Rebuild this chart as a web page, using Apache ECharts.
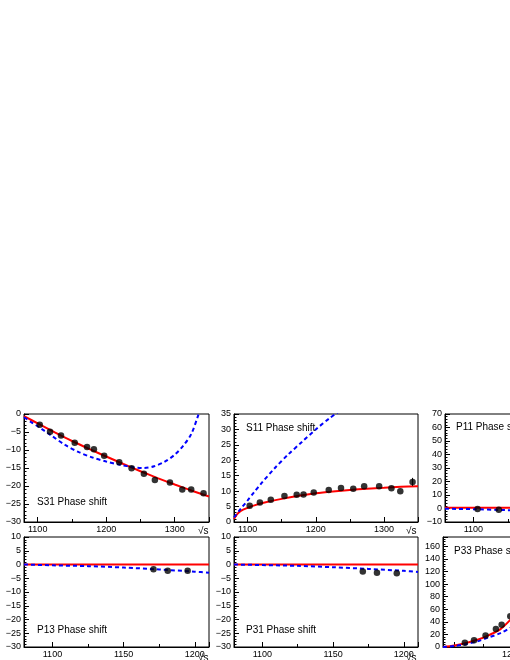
<!DOCTYPE html>
<html>
<head>
<meta charset="utf-8">
<script src="https://cdn.jsdelivr.net/npm/echarts@6/dist/echarts.min.js"></script>
<style>
    html, body {margin:0;padding:0;background:#fff;overflow:hidden;}
    /* the figure is wider than the window; its right part is cut off */
    #chart {width:640px;height:660px;}
</style>
</head>
<body>
<div id="chart"></div>
<script>
    // measured energies (sqrt s, MeV)
    var energies = [1103, 1118, 1134, 1154, 1172, 1182, 1197, 1219, 1237, 1255, 1271, 1293, 1311, 1324, 1342];
    var s31Points = [-3.0, -4.9, -6.0, -8.0, -9.2, -9.8, -11.6, -13.4, -15.1, -16.6, -18.3, -19.0, -21.0, -21.0, -22.0];
    var s11Points = [5.3, 6.3, 7.2, 8.4, 8.8, 8.9, 9.6, 10.4, 11.0, 10.8, 11.6, 11.6, 10.9, 10.0, 13.0];
    var s11Errors = [0, 0, 0, 0, 0, 0, 0, 0, 0, 0, 0, 0, 0, 0, 1.3];

    var s31RedX = [1080, 1100, 1125, 1150, 1175, 1200, 1225, 1250, 1275, 1300, 1325, 1350];
    var s31RedY = [-0.6, -2.6, -5.1, -7.5, -9.7, -11.8, -13.9, -15.9, -17.8, -19.6, -21.3, -22.9];
    var s31BlueX = [1080, 1090, 1100, 1110, 1120, 1140, 1160, 1180, 1200, 1220, 1240, 1255, 1270, 1285, 1300, 1312, 1324, 1334, 1340];
    var s31BlueY = [-0.9, -2.2, -3.4, -4.7, -6.0, -8.6, -10.6, -12.1, -13.2, -14.1, -14.8, -15.0, -14.5, -13.3, -11.3, -8.9, -5.6, -0.5, 3.0];

    var s11RedX = [1080, 1085, 1090, 1100, 1110, 1125, 1150, 1175, 1200, 1225, 1250, 1275, 1300, 1325, 1350];
    var s11RedY = [1.0, 2.6, 3.6, 4.6, 5.4, 6.3, 7.5, 8.5, 9.3, 9.9, 10.4, 10.8, 11.1, 11.4, 11.6];
    var s11BlueX = [1080, 1090, 1100, 1110, 1120, 1140, 1160, 1180, 1200, 1220, 1240];
    var s11BlueY = [1.5, 4.3, 7.0, 9.8, 12.5, 17.5, 22.0, 26.0, 30.0, 33.6, 36.8];

    var p11PointX = [1103, 1118];
    var p11PointY = [-0.3, -1.0];
    var p11RedX = [1080, 1210];
    var p11RedY = [0.5, 0.5];
    var p11BlueX = [1080, 1100, 1120, 1140];
    var p11BlueY = [-0.2, -0.5, -1.1, -1.6];

    var lowX = [1171, 1181, 1195];
    var p13Points = [-1.7, -2.3, -2.3];
    var p31Points = [-2.5, -3.0, -3.2];
    var flatX = [1080, 1210];
    var flatY = [0, 0];
    var p13BlueX = [1080, 1100, 1125, 1150, 1175, 1200, 1210];
    var p13BlueY = [0, -0.3, -0.6, -1.1, -1.8, -2.6, -3.0];
    var p31BlueY = [0, -0.2, -0.5, -1.0, -1.6, -2.3, -2.7];

    var p33PointX = [1118, 1134, 1154, 1172, 1182, 1197];
    var p33PointY = [6.9, 10.8, 18.3, 28.6, 35.5, 49.0];
    var p33RedX = [1080, 1100, 1120, 1140, 1160, 1180, 1200, 1205];
    var p33RedY = [0, 2.5, 6.5, 11.5, 19.0, 28.5, 46.0, 52.0];
    var p33BlueX = [1080, 1100, 1120, 1140, 1160, 1180, 1200, 1205];
    var p33BlueY = [0, 1.5, 4.5, 9.0, 15.5, 22.0, 32.0, 34.0];

    var titles = ['S31 Phase shift', 'S11 Phase shift', 'P11 Phase shift', 'P13 Phase shift', 'P31 Phase shift', 'P33 Phase shift'];

    function zip(xs, ys) {
        return xs.map(function (x, i) { return [x, ys[i]]; });
    }

    var FONT = '"Liberation Sans", Arial, sans-serif';

    // panel boxes: left, top, width, height, x range, y range, y step, x label step
    var panels = [
        {left: 24, top: 414, width: 185, height: 108, xmin: 1080, xmax: 1350, ymin: -30, ymax: 0, ystep: 5, xlab: 100},
        {left: 234, top: 414, width: 184, height: 108, xmin: 1080, xmax: 1350, ymin: 0, ymax: 35, ystep: 5, xlab: 100},
        {left: 445, top: 414, width: 184, height: 108, xmin: 1080, xmax: 1210, ymin: -10, ymax: 70, ystep: 10, xlab: 50},
        {left: 24, top: 537, width: 185, height: 110, xmin: 1080, xmax: 1210, ymin: -30, ymax: 10, ystep: 5, xlab: 50},
        {left: 234, top: 537, width: 184, height: 110, xmin: 1080, xmax: 1210, ymin: -30, ymax: 10, ystep: 5, xlab: 50},
        {left: 443, top: 537, width: 184, height: 110, xmin: 1080, xmax: 1400, ymin: 0, ymax: 175, ystep: 20, xlab: 200}
    ];

    var grids = [], xAxes = [], yAxes = [];
    panels.forEach(function (p, i) {
        grids.push({left: p.left, top: p.top, width: p.width, height: p.height,
            show: true, borderColor: '#000', borderWidth: 1, backgroundColor: 'transparent'});
        xAxes.push({
            type: 'value', gridIndex: i, min: p.xmin, max: p.xmax, splitNumber: 3,
            axisLine: {show: true, onZero: false, lineStyle: {color: '#000', width: 1}},
            axisTick: {inside: true, length: 5, lineStyle: {color: '#000'}},
            minorTick: {show: true, splitNumber: 2, length: 3, lineStyle: {color: '#000'}},
            splitLine: {show: false},
            axisLabel: {color: '#000', fontSize: 9, fontFamily: FONT, margin: 3,
                showMinLabel: false, showMaxLabel: false,
                formatter: function (v) { return v % p.xlab === 0 ? String(v) : ''; }}
        });
        yAxes.push({
            type: 'value', gridIndex: i, min: p.ymin, max: p.ymax, interval: p.ystep,
            axisLine: {show: true, onZero: false, lineStyle: {color: '#000', width: 1}},
            axisTick: {inside: true, length: 5, lineStyle: {color: '#000'}},
            minorTick: {show: true, splitNumber: 5, length: 2.5, lineStyle: {color: '#000'}},
            splitLine: {show: false},
            axisLabel: {color: '#000', fontSize: 9, fontFamily: FONT, margin: 3,
                showMaxLabel: p.ymax % p.ystep === 0,
                formatter: function (v) { return String(v).replace('-', '\u2212'); }}
        });
    });

    function redLine(i, data) {
        return {type: 'line', xAxisIndex: i, yAxisIndex: i, data: data, showSymbol: false,
            smooth: 0.3, clip: true, z: 3, lineStyle: {color: '#ff0000', width: 2}};
    }
    function blueLine(i, data) {
        return {type: 'line', xAxisIndex: i, yAxisIndex: i, data: data, showSymbol: false,
            smooth: 0.3, clip: true, z: 4, lineStyle: {color: '#0000ff', width: 2, type: [4, 3]}};
    }
    function dots(i, data) {
        return {type: 'scatter', xAxisIndex: i, yAxisIndex: i, data: data, symbolSize: 6.5,
            z: 5, itemStyle: {color: '#000'}};
    }

    var series = [
        redLine(0, zip(s31RedX, s31RedY)), blueLine(0, zip(s31BlueX, s31BlueY)), dots(0, zip(energies, s31Points)),
        redLine(1, zip(s11RedX, s11RedY)), blueLine(1, zip(s11BlueX, s11BlueY)), dots(1, zip(energies, s11Points)),
        {
            type: 'custom', xAxisIndex: 1, yAxisIndex: 1, z: 5,
            data: energies.map(function (x, i) { return [x, s11Points[i], s11Errors[i]]; }),
            renderItem: function (params, api) {
                var lo = api.coord([api.value(0), api.value(1) - api.value(2)]);
                var hi = api.coord([api.value(0), api.value(1) + api.value(2)]);
                return {type: 'line', shape: {x1: lo[0], y1: lo[1], x2: hi[0], y2: hi[1]},
                    style: {stroke: '#000', lineWidth: 1}};
            }
        },
        redLine(2, zip(p11RedX, p11RedY)), blueLine(2, zip(p11BlueX, p11BlueY)), dots(2, zip(p11PointX, p11PointY)),
        redLine(3, zip(flatX, flatY)), blueLine(3, zip(p13BlueX, p13BlueY)), dots(3, zip(lowX, p13Points)),
        redLine(4, zip(flatX, flatY)), blueLine(4, zip(p13BlueX, p31BlueY)), dots(4, zip(lowX, p31Points)),
        redLine(5, zip(p33RedX, p33RedY)), blueLine(5, zip(p33BlueX, p33BlueY)), dots(5, zip(p33PointX, p33PointY))
    ];

    var titlePos = [[37, 497], [246, 423], [456, 422], [37, 625], [246, 625], [454, 546]];
    var sqrtPos = [[198, 526], [406, 526], [198, 653], [406, 653]];
    var graphics = [];
    titles.forEach(function (t, i) {
        graphics.push({type: 'text', x: titlePos[i][0], y: titlePos[i][1], z: 10,
            style: {text: t, font: '10px ' + FONT, fill: '#000'}});
    });
    sqrtPos.forEach(function (p) {
        graphics.push({type: 'text', x: p[0], y: p[1], z: 10,
            style: {text: '\u221As', font: '10px ' + FONT, fill: '#000'}});
    });

    var chart = echarts.init(document.getElementById('chart'));
    chart.setOption({
        backgroundColor: '#fff',
        animation: false,
        grid: grids,
        xAxis: xAxes,
        yAxis: yAxes,
        graphic: graphics,
        series: series
    });
    window.onresize = function () {
        chart.resize();
    };
</script>
</body>
</html>
